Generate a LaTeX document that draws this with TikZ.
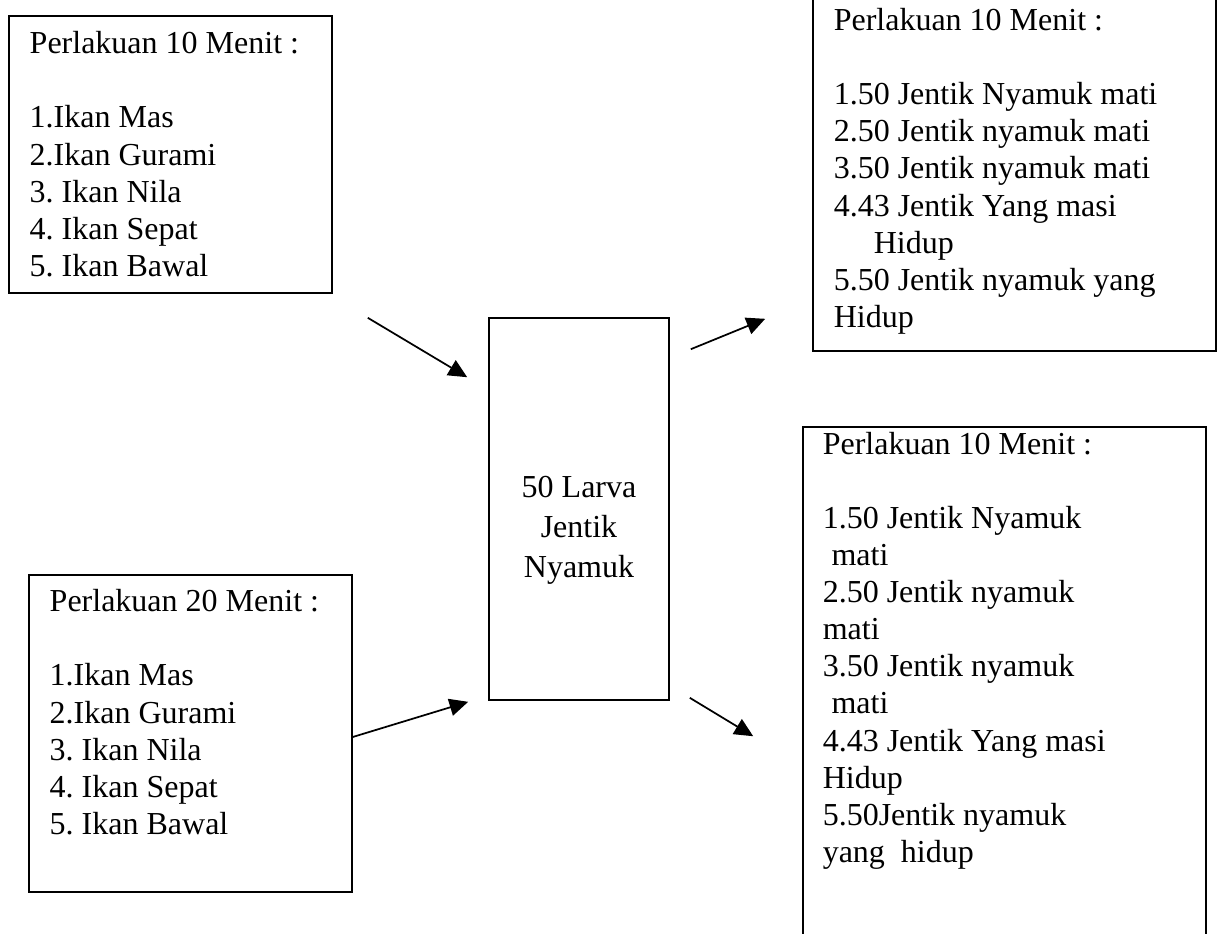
\documentclass[tikz,border=0pt]{standalone}
\usepackage{fontspec}
\setmainfont{Liberation Serif}
\frenchspacing
\usetikzlibrary{arrows.meta,positioning,calc,fit}
\tikzset{
  kotak/.style={draw, line width=0.6pt, inner sep=0pt},
  isi/.style={anchor=base west, align=left, inner sep=0pt,
    font=\fontsize{12pt}{13.9pt}\selectfont},
  panah/.style={-{Triangle[length=7pt,width=6.5pt]}, line width=0.65pt},
}

\begin{document}
\begin{tikzpicture}[x=0.375pt,y=-0.375pt]
  \useasboundingbox (0,0) rectangle (1221,933);

  % kotak-kotak
  \node[kotak, fit={(9,16) (332,293)}]    (tl)  {};
  \node[kotak, fit={(29,575) (352,892)}]  (bl)  {};
  \node[kotak, fit={(489,318) (669,700)}] (ctr) {};
  \node[kotak, fit={(813,-30) (1216,351)}] (tr) {};
  \node[kotak, fit={(803,427) (1206,960)}] (br) {};

  % isi kotak (base = baris terakhir)
  \node[isi] (tltxt) at ($(tl.north west)+(21,261)$)
    {Perlakuan 10 Menit :\\ ~\\ 1.Ikan Mas\\ 2.Ikan Gurami\\ 3. Ikan Nila\\
     4. Ikan Sepat\\ 5. Ikan Bawal};
  \node[isi] (bltxt) at ($(bl.north west)+(21,260)$)
    {Perlakuan 20 Menit :\\ ~\\ 1.Ikan Mas\\ 2.Ikan Gurami\\ 3. Ikan Nila\\
     4. Ikan Sepat\\ 5. Ikan Bawal};
  \node[isi, anchor=base, align=center, font=\fontsize{12pt}{15pt}\selectfont]
    (ctrtxt) at ($(ctr.north)+(0,260)$) {50 Larva\\ Jentik\\ Nyamuk};
  \node[isi] (trtxt) at ($(tr.north west)+(21,358)$)
    {Perlakuan 10 Menit :\\ ~\\ 1.50 Jentik Nyamuk mati\\ 2.50 Jentik nyamuk mati\\
     3.50 Jentik nyamuk mati\\ 4.43 Jentik Yang masi\\ \hspace*{15pt}Hidup\\
     5.50 Jentik nyamuk yang\\ Hidup};
  \node[isi] (brtxt) at ($(br.north west)+(20,436)$)
    {Perlakuan 10 Menit :\\ ~\\ 1.50 Jentik Nyamuk\\ \hspace*{3.3pt}mati\\
     2.50 Jentik nyamuk\\ mati\\ 3.50 Jentik nyamuk\\ \hspace*{3.3pt}mati\\
     4.43 Jentik Yang masi\\ Hidup\\ 5.50Jentik nyamuk\\ yang\ \ hidup};

  % ujung panah
  \coordinate (a1) at ($(tl.south east)+(35,24)$);
  \coordinate (b1) at ($(ctr.north west)+(-21,60)$);
  \coordinate (b2) at ($(ctr.south west)+(-20,1)$);
  \coordinate (c1) at ($(ctr.north east)+(21,32)$);
  \coordinate (d1) at ($(tr.south west)+(-47,-33)$);
  \coordinate (c2) at ($(ctr.south east)+(20,-3)$);
  \coordinate (d2) at ($(br.north west)+(-49,310)$);

  \draw[panah] (a1) -- (b1);
  \draw[panah] ([yshift=-1.3pt]bl.east) -- (b2);
  \draw[panah] (c1) -- (d1);
  \draw[panah] (c2) -- (d2);
\end{tikzpicture}
\end{document}
